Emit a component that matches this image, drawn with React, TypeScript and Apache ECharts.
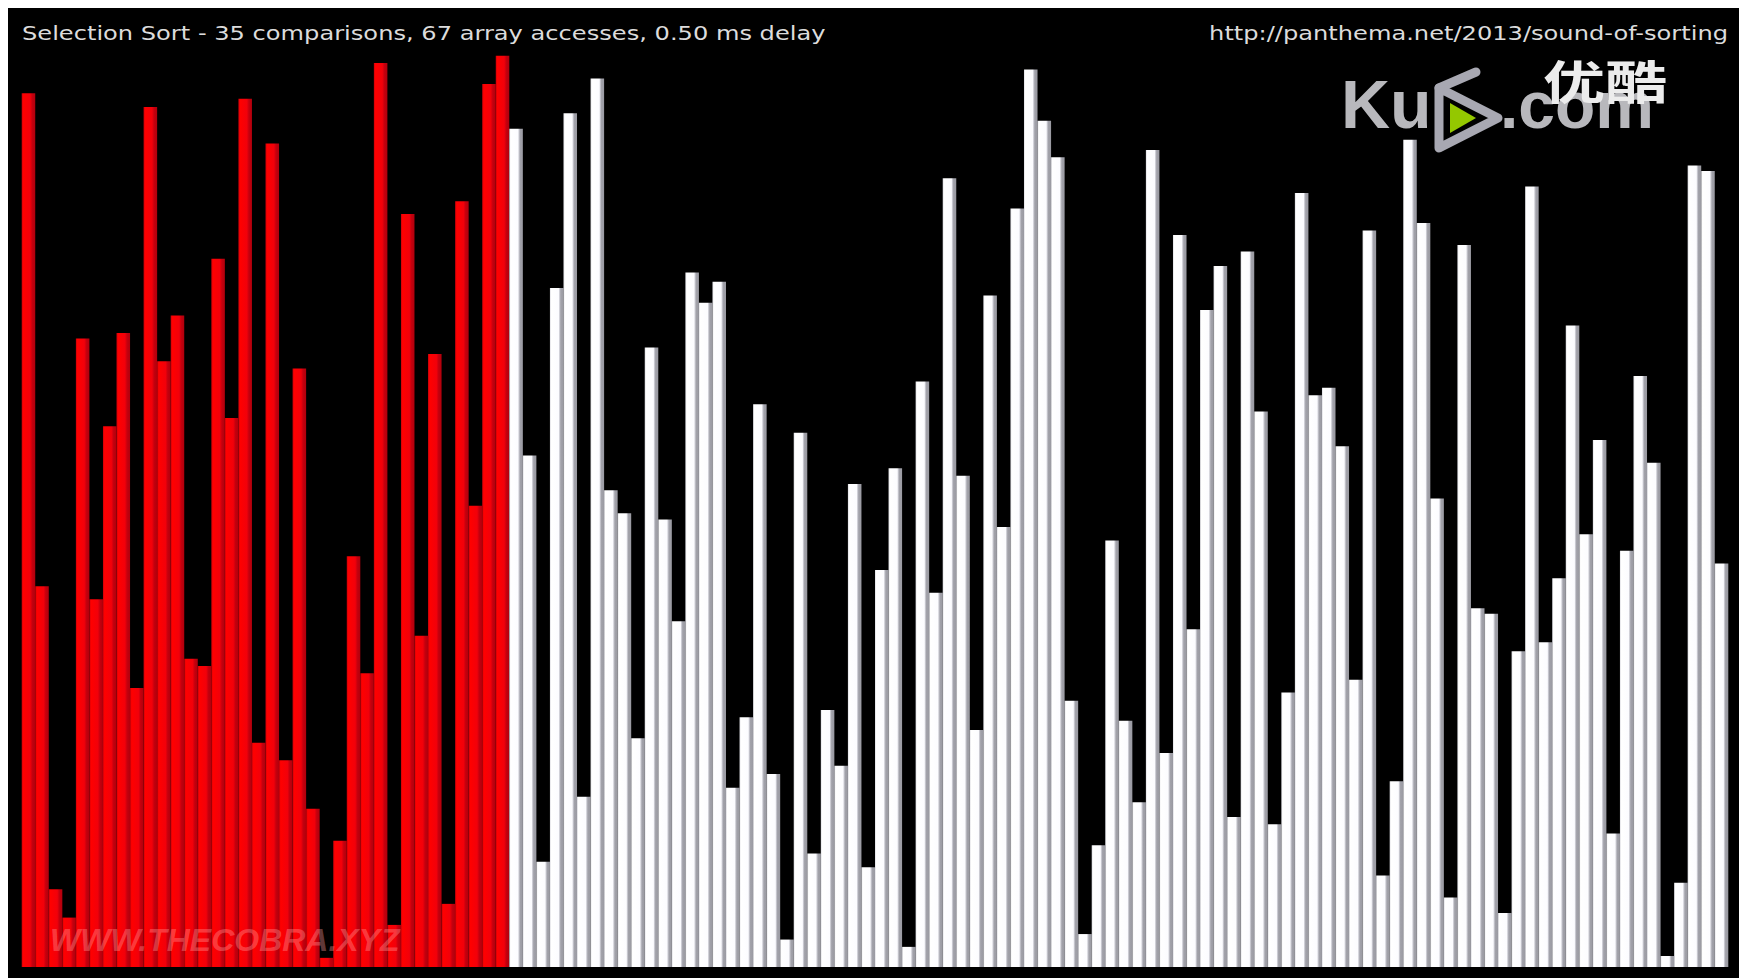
import React, { useEffect, useRef } from "react";
import * as echarts from "echarts";

const titleText = "Selection Sort - 35 comparisons, 67 array accesses, 0.50 ms delay";
const urlText = "http://panthema.net/2013/sound-of-sorting";
const watermarkText = "WWW.THECOBRA.XYZ";

// bar heights (0-100), left to right
const barValues = [
  95.5, 41.6, 8.5, 5.4, 68.7, 40.2, 59.1, 69.3, 30.5, 94.0,
  66.2, 71.2, 33.7, 32.9, 77.4, 60.0, 94.9, 24.5, 90.0, 22.6,
  65.4, 17.3, 1.0, 13.8, 44.9, 32.1, 98.8, 4.6, 82.3, 36.2,
  67.0, 6.9, 83.7, 50.4, 96.5, 99.6, 91.6, 55.9, 11.5, 74.2,
  93.3, 18.6, 97.1, 52.1, 49.6, 25.0, 67.7, 48.9, 37.8, 75.9,
  72.6, 74.9, 19.6, 27.3, 61.5, 21.1, 3.0, 58.4, 12.4, 28.1,
  22.0, 52.8, 10.9, 43.4, 54.5, 2.2, 64.0, 40.9, 86.2, 53.7,
  25.9, 73.4, 48.1, 82.9, 98.1, 92.5, 88.5, 29.1, 3.6, 13.3,
  46.6, 26.9, 18.0, 89.3, 23.4, 80.0, 36.9, 71.8, 76.6, 16.4,
  78.2, 60.7, 15.6, 30.0, 84.6, 62.5, 63.3, 56.9, 31.4, 80.5,
  10.0, 20.3, 90.4, 81.3, 51.2, 7.6, 78.9, 39.2, 38.6, 5.9,
  34.5, 85.3, 35.5, 42.5, 70.1, 47.3, 57.6, 14.6, 45.5, 64.6,
  55.1, 1.2, 9.2, 87.6, 87.0, 44.1,
];
// number of bars at the left drawn in red (already processed region)
const redCount = 36;
const categories = barValues.map((_, i) => String(i + 1));

export default function App() {
  const ref = useRef<HTMLDivElement>(null);
  useEffect(() => {
    if (!ref.current) return;
    const chart = echarts.init(ref.current, undefined, { renderer: "svg" });
    const redFill = new echarts.graphic.LinearGradient(0, 0, 1, 0, [
      { offset: 0, color: "#c8000a" },
      { offset: 0.12, color: "#ff0000" },
      { offset: 0.62, color: "#f2000a" },
      { offset: 0.78, color: "#c4000e" },
      { offset: 1, color: "#b0000c" },
    ]);
    const whiteFill = new echarts.graphic.LinearGradient(0, 0, 1, 0, [
      { offset: 0, color: "#dcdce2" },
      { offset: 0.1, color: "#ffffff" },
      { offset: 0.64, color: "#fcfcff" },
      { offset: 0.72, color: "#c8c8d0" },
      { offset: 0.8, color: "#a2a2aa" },
      { offset: 1, color: "#9a9aa2" },
    ]);
    const data = barValues.map((v, i) => ({
      value: v,
      itemStyle: { color: i < redCount ? redFill : whiteFill },
    }));
    const font = "DejaVu Sans";
    const Z = 100;
    chart.setOption({
      animation: false,
      backgroundColor: "#000000",
      grid: { left: 13.7, right: 10.7, top: 44, bottom: 11 },
      xAxis: {
        type: "category",
        data: categories,
        show: false,
        boundaryGap: true,
      },
      yAxis: { type: "value", min: 0, max: 100, show: false },
      series: [
        {
          type: "bar",
          data,
          barCategoryGap: 0,
          barGap: 0,
          silent: true,
          z: 2,
        },
      ],
      graphic: [
        {
          type: "group",
          x: -8,
          y: -8,
          z: Z,
          children: [
            {
              type: "text",
              x: 22,
              y: 33,
              z: Z,
              scaleX: 1.27,
              style: {
                text: titleText,
                fill: "#dcdcdc",
                font: `19px '${font}'`,
                textVerticalAlign: "middle",
              },
            },
            {
              type: "text",
              x: 1728,
              y: 33,
              z: Z,
              scaleX: 1.27,
              style: {
                text: urlText,
                fill: "#dcdcdc",
                font: `19px '${font}'`,
                textAlign: "right",
                textVerticalAlign: "middle",
              },
            },
            // Ku6 logo watermark
            {
              type: "text",
              x: 1341,
              y: 138,
              z: Z,
              style: {
                text: "Ku",
                fill: "#b8b8bc",
                font: "bold 68px 'Liberation Sans'",
                textVerticalAlign: "bottom",
              },
            },
            {
              type: "polygon",
              z: Z,
              shape: { points: [[1439, 88], [1439, 148], [1498, 118]] },
              style: { fill: "#000000", stroke: "#a8a8b2", lineWidth: 9, lineJoin: "round" },
            },
            {
              type: "polyline",
              z: Z,
              shape: { points: [[1439, 88], [1476, 72]] },
              style: { stroke: "#a8a8b2", lineWidth: 9, lineCap: "round" },
            },
            {
              type: "polygon",
              z: Z + 1,
              shape: { points: [[1450, 103], [1450, 133], [1476, 118]] },
              style: { fill: "#94c800" },
            },
            {
              type: "text",
              x: 1500,
              y: 138,
              z: Z,
              style: {
                text: ".com",
                fill: "#b8b8bc",
                font: "bold 66px 'Liberation Sans'",
                textVerticalAlign: "bottom",
              },
            },
            {
              type: "text",
              x: 1543,
              y: 56,
              z: Z + 1,
              scaleX: 1.35,
              style: {
                text: "优酷",
                fill: "#ececec",
                font: "bold 46px 'Noto Sans CJK SC'",
                textVerticalAlign: "top",
              },
            },
            // bottom-left watermark
            {
              type: "text",
              x: 50,
              y: 956,
              z: Z,
              style: {
                text: watermarkText,
                fill: "rgba(255,150,150,0.4)",
                font: "italic bold 32px 'Liberation Sans'",
                textVerticalAlign: "bottom",
              },
            },
          ],
        },
      ],
    });
    return () => chart.dispose();
  }, []);
  return (
    <div
      ref={ref}
      style={{ position: "absolute", left: 8, top: 8, width: 1731, height: 970 }}
    />
  );
}
